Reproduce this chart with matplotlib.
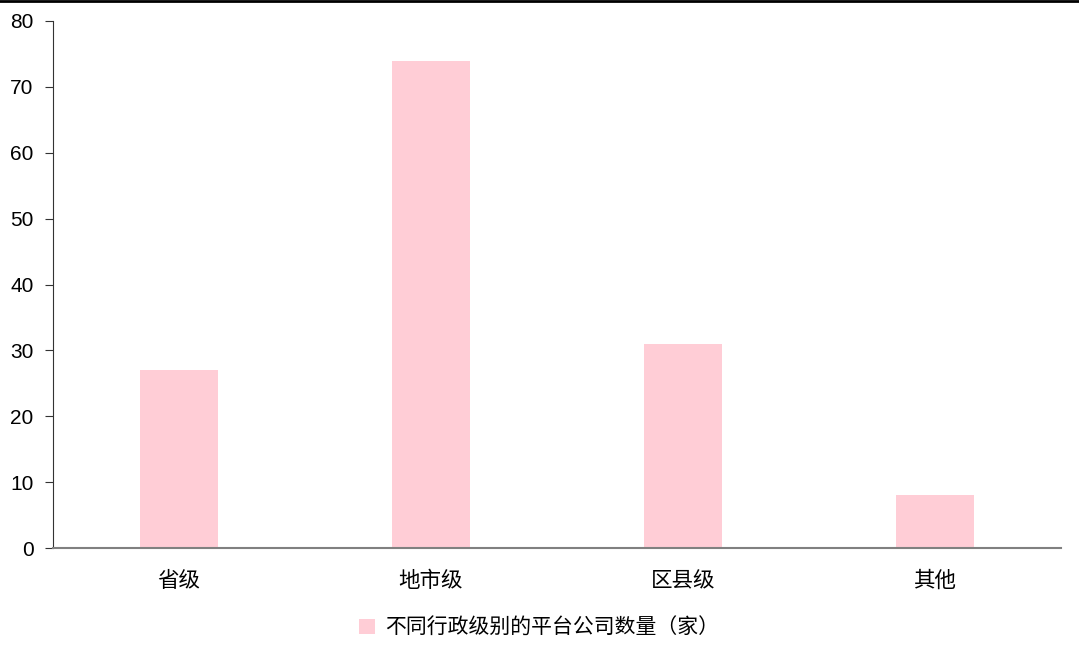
import matplotlib
matplotlib.use("Agg")
import matplotlib.pyplot as plt
from matplotlib.lines import Line2D

plt.rcParams['font.family'] = ['Noto Sans CJK SC', 'DejaVu Sans']

categories = ["省级", "地市级", "区县级", "其他"]
counts = [27, 74, 31, 8]
series_name = "不同行政级别的平台公司数量（家）"
yticks = [0, 10, 20, 30, 40, 50, 60, 70, 80]

fig = plt.figure(figsize=(10.79, 6.56), dpi=100)
ax = fig.add_axes([0.0491, 0.1646, 0.9342, 0.8034])

bars = ax.bar(range(len(categories)), counts, width=0.31, color="#FFCDD6", label=series_name)

ax.set_xlim(-0.5, len(categories) - 0.5)
ax.set_ylim(0, 80)
ax.set_yticks(yticks)
ax.set_yticklabels([str(v) for v in yticks], fontfamily="Liberation Sans", fontsize=15)
ax.set_xticks(range(len(categories)))
ax.set_xticklabels(categories, fontsize=15.5)

ax.spines["top"].set_visible(False)
ax.spines["right"].set_visible(False)
ax.spines["left"].set_color("#333333")
ax.spines["bottom"].set_color("#808080")
ax.spines["bottom"].set_linewidth(1.5)
ax.tick_params(axis="y", direction="out", length=6, color="#333333", pad=8)
ax.tick_params(axis="x", length=0, pad=16)

fig.legend(handles=[bars], loc="center", bbox_to_anchor=(0.5, 1 - 628 / 656),
           frameon=False, fontsize=15, handlelength=0.75, handleheight=0.75,
           handletextpad=0.5)

# black border line at the very top of the screenshot
fig.add_artist(Line2D([0, 1], [0.999, 0.999], color="black", linewidth=2, transform=fig.transFigure))

fig.savefig("out.png", dpi=100)
